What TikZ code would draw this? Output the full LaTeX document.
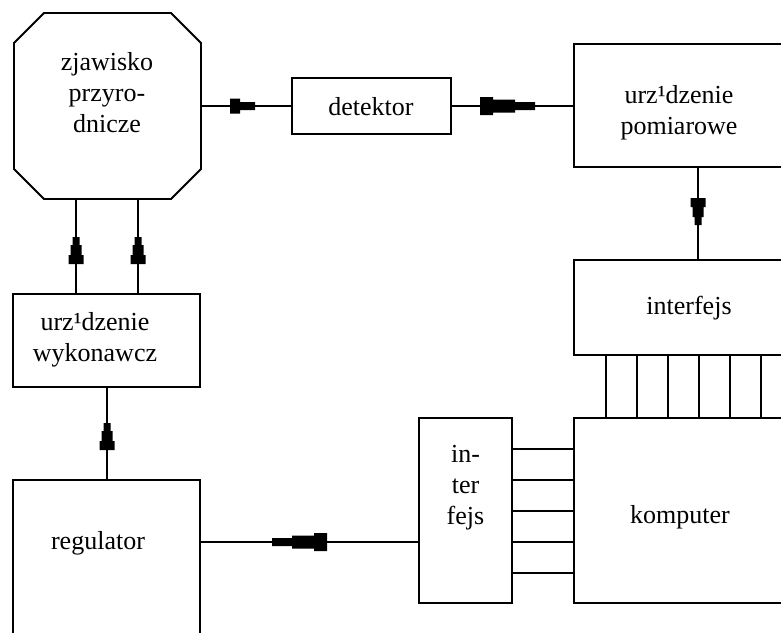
\documentclass[tikz,border=0pt]{standalone}
\usepackage{fontspec}
\setmainfont{Liberation Serif}
\usetikzlibrary{fit}
\begin{document}
\begin{tikzpicture}[x=0.75pt,y=-0.75pt,line width=1.4pt,
  box/.style={draw,rectangle,inner sep=0pt,line width=1.4pt},
  ghost/.style={rectangle,inner sep=0pt},
  lbl/.style={font=\fontsize{19.5}{23.25}\selectfont,align=center,inner sep=0pt},
  tipA/.pic={\fill (0,-3.5) -- (-8,-3.5) -- (-8,-5.5) -- (-18,-5.5) -- (-18,-7.5) -- (-27,-7.5)
      -- (-27,7.5) -- (-18,7.5) -- (-18,5.5) -- (-8,5.5) -- (-8,3.5) -- (0,3.5) -- cycle;},
  tipB/.pic={\fill (0,-4) -- (-15,-4) -- (-15,-7.5) -- (-25,-7.5)
      -- (-25,7.5) -- (-15,7.5) -- (-15,4) -- (0,4) -- cycle;},
  tipC/.pic={\fill (0,-4) -- (-20,-4) -- (-20,-6.5) -- (-42,-6.5) -- (-42,-9) -- (-55,-9)
      -- (-55,9) -- (-42,9) -- (-42,6.5) -- (-20,6.5) -- (-20,4) -- (0,4) -- cycle;}]
\useasboundingbox (0,0) rectangle (781,632);
\clip (0,0) rectangle (781,632);

% octagon
\node[ghost,fit={(14,13) (201,199)}] (oct) {};
\draw (44,13) -- (171,13) -- (201,43) -- (201,169) -- (171,199) -- (44,199) -- (14,169) -- (14,43) -- cycle;
\node[lbl] (octt) at (107,93) {zjawisko\\przyro-\\dnicze};

% boxes
\node[box,fit={(292,78) (451,134)}] (det) {};
\node[lbl] (dett) at (371,107) {detektor};
\node[box,fit={(574,44) (800,167)}] (pom) {};
\node[lbl] (pomt) at (679,113) {urz¹dzenie\\pomiarowe};
\node[box,fit={(574,260) (804,355)}] (ifa) {};
\node[lbl] (ifat) at (689,308) {interfejs};
\node[box,fit={(574,418) (800,603)}] (komp) {};
\node[lbl] (kompt) at (680,517) {komputer};
\node[box,fit={(419,418) (512,603)}] (ifb) {};
\node[lbl] (ifbt) at (465.5,488) {in-\\ter\\fejs};
\node[box,fit={(13,294) (200,387)}] (wyk) {};
\node[lbl] (wykt) at (95,340) {urz¹dzenie\\wykonawcz};
\node[box,fit={(13,480) (200,660)}] (reg) {};
\node[lbl] (regt) at (98,543) {regulator};

% connector coordinates
\coordinate (v1) at (76,0);
\coordinate (v2) at (138,0);
\coordinate (v3) at (107,0);
\coordinate (vp) at (698,0);
\foreach \x [count=\i] in {606,637,668,699,730,761} {\coordinate (b\i) at (\x,0);}
\foreach \y [count=\i] in {449,480,511,542,573} {\coordinate (h\i) at (0,\y);}

% connectors
\draw (oct.east) -- (det.west);
\draw (det.east) -- (det.east -| pom.west);
\draw (pom.south -| vp) -- (ifa.north -| vp);
\foreach \i in {1,...,6} {\draw (ifa.south -| b\i) -- (komp.north -| b\i);}
\foreach \i in {1,...,5} {\draw (ifb.east |- h\i) -- (komp.west |- h\i);}
\draw (reg.east |- h4) -- (ifb.west |- h4);
\draw (wyk.south -| v3) -- (reg.north -| v3);
\draw (oct.south -| v1) -- (wyk.north -| v1);
\draw (oct.south -| v2) -- (wyk.north -| v2);

% arrow marks
\pic at (255,106) {tipB};
\pic at (535,106) {tipC};
\pic[rotate=-90] at (698,225) {tipA};
\pic[rotate=90] at (76,237) {tipA};
\pic[rotate=90] at (138,237) {tipA};
\pic[rotate=90] at (107,423) {tipA};
\pic[rotate=180] at (272,542) {tipC};
\end{tikzpicture}
\end{document}
